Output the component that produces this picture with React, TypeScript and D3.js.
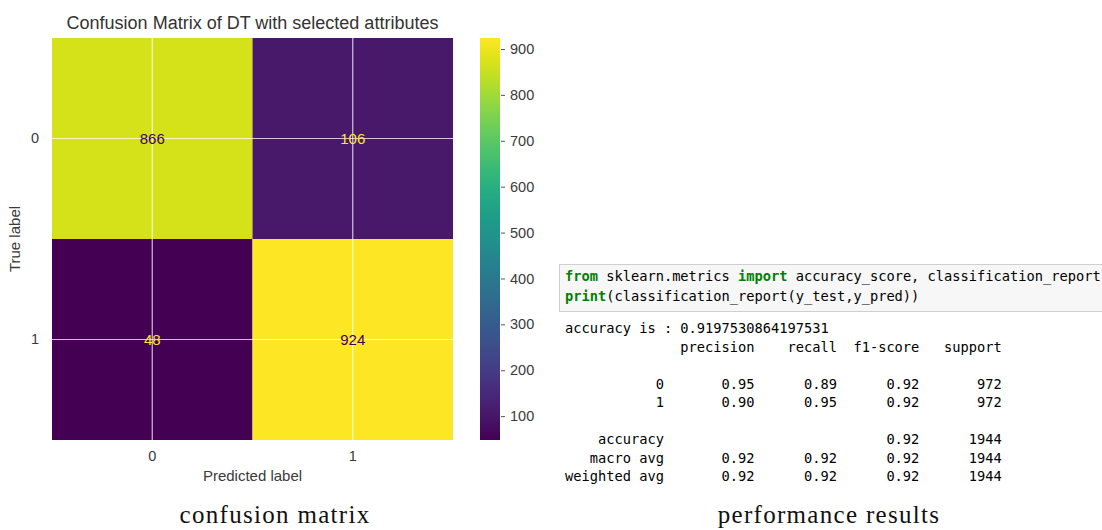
import { useEffect, useRef } from "react";
import * as d3 from "d3";

// confusion matrix values (rows = true label, cols = predicted label)
const classes = ["0", "1"];
const matrix = [
  [866, 106],
  [48, 924],
];
const colorbarTicks = [100, 200, 300, 400, 500, 600, 700, 800, 900];

// classification report
const accuracyValue = "0.9197530864197531";
const reportHeaders = ["precision", "recall", "f1-score", "support"];
const classRows = ["0", "1"];
const precision = [0.95, 0.9];
const recall = [0.89, 0.95];
const f1 = [0.92, 0.92];
const support = [972, 972];
const avgRows = ["macro avg", "weighted avg"];
const avgPrecision = [0.92, 0.92];
const avgRecall = [0.92, 0.92];
const avgF1 = [0.92, 0.92];
const avgSupport = [1944, 1944];
const accuracyF1 = 0.92;
const accuracySupport = 1944;

const W = 1102;
const H = 530;

function App() {
  const ref = useRef<SVGSVGElement | null>(null);

  useEffect(() => {
    const svg = d3.select(ref.current);
    svg.selectAll("*").remove();

    const sans = "'Liberation Sans', Arial, sans-serif";
    const mono = "'DejaVu Sans Mono', monospace";
    const textCol = "#3a3a3a";
    const fs = 14.5;

    // ---------- heatmap ----------
    const x = d3.scaleBand().domain(classes).range([52, 453]);
    const y = d3.scaleBand().domain(classes).range([38, 440]);
    const flat = matrix.flat();
    const [vmin, vmax] = d3.extent(flat) as [number, number];
    const color = d3.scaleSequential(d3.interpolateViridis).domain([vmin, vmax]);

    const cells = matrix.flatMap((row, i) =>
      row.map((v, j) => ({ r: classes[i], c: classes[j], v }))
    );

    svg
      .append("text")
      .attr("x", (x.range()[0] + x.range()[1]) / 2)
      .attr("y", 29)
      .attr("text-anchor", "middle")
      .attr("font-family", sans)
      .attr("font-size", 18)
      .attr("fill", "#333")
      .text("Confusion Matrix of DT with selected attributes");

    svg
      .append("g")
      .selectAll("rect")
      .data(cells)
      .join("rect")
      .attr("x", (d) => x(d.c)!)
      .attr("y", (d) => y(d.r)!)
      .attr("width", x.bandwidth())
      .attr("height", y.bandwidth())
      .attr("fill", (d) => color(d.v));

    // grid lines through cell centres (seaborn style)
    const grid = svg.append("g").attr("stroke", "#fff").attr("stroke-opacity", 0.75).attr("stroke-width", 1.2);
    classes.forEach((c) => {
      const cx = x(c)! + x.bandwidth() / 2;
      const cy = y(c)! + y.bandwidth() / 2;
      grid.append("line").attr("x1", cx).attr("x2", cx).attr("y1", y.range()[0]).attr("y2", y.range()[1]);
      grid.append("line").attr("y1", cy).attr("y2", cy).attr("x1", x.range()[0]).attr("x2", x.range()[1]);
    });

    const mid = (vmin + vmax) / 2;
    svg
      .append("g")
      .selectAll("text")
      .data(cells)
      .join("text")
      .attr("x", (d) => x(d.c)! + x.bandwidth() / 2)
      .attr("y", (d) => y(d.r)! + y.bandwidth() / 2)
      .attr("text-anchor", "middle")
      .attr("dominant-baseline", "central")
      .attr("font-family", sans)
      .attr("font-size", 15)
      .attr("fill", (d) => (d.v < mid ? color(vmax) : color(vmin)))
      .text((d) => d.v);

    const xAxis = svg
      .append("g")
      .attr("transform", `translate(0,${y.range()[1]})`)
      .call(d3.axisBottom(x).tickSize(0).tickPadding(11));
    const yAxis = svg
      .append("g")
      .attr("transform", `translate(${x.range()[0]},0)`)
      .call(d3.axisLeft(y).tickSize(0).tickPadding(13));
    [xAxis, yAxis].forEach((g) => {
      g.select(".domain").remove();
      g.selectAll("text").attr("font-family", sans).attr("font-size", fs).attr("fill", textCol);
    });

    svg
      .append("text")
      .attr("x", (x.range()[0] + x.range()[1]) / 2)
      .attr("y", 481)
      .attr("text-anchor", "middle")
      .attr("font-family", sans)
      .attr("font-size", 15)
      .attr("fill", textCol)
      .text("Predicted label");

    svg
      .append("text")
      .attr("transform", `translate(20,${(y.range()[0] + y.range()[1]) / 2}) rotate(-90)`)
      .attr("text-anchor", "middle")
      .attr("font-family", sans)
      .attr("font-size", 15)
      .attr("fill", textCol)
      .text("True label");

    // ---------- colorbar ----------
    const cb = d3.scaleLinear().domain([vmin, vmax]).range([440, 38]);
    const defs = svg.append("defs");
    const grad = defs
      .append("linearGradient")
      .attr("id", "viridis-grad")
      .attr("x1", 0)
      .attr("y1", 1)
      .attr("x2", 0)
      .attr("y2", 0);
    d3.range(0, 1.0001, 0.05).forEach((t) => {
      grad.append("stop").attr("offset", `${t * 100}%`).attr("stop-color", d3.interpolateViridis(t));
    });
    svg
      .append("rect")
      .attr("x", 480)
      .attr("y", cb(vmax))
      .attr("width", 20)
      .attr("height", cb(vmin) - cb(vmax))
      .attr("fill", "url(#viridis-grad)");
    const cbAxis = svg
      .append("g")
      .attr("transform", "translate(501,0)")
      .call(d3.axisRight(cb).tickValues(colorbarTicks).tickSize(4).tickPadding(5));
    cbAxis.select(".domain").remove();
    cbAxis.selectAll("line").attr("stroke", "#555");
    cbAxis.selectAll("text").attr("font-family", sans).attr("font-size", fs).attr("fill", textCol);

    // ---------- code cell ----------
    svg
      .append("rect")
      .attr("x", 559.5)
      .attr("y", 264.5)
      .attr("width", 600)
      .attr("height", 47)
      .attr("fill", "#f7f7f7")
      .attr("stroke", "#cfcfcf");

    const codeLines = [
      [
        { t: "from", k: true },
        { t: " sklearn.metrics ", k: false },
        { t: "import", k: true },
        { t: " accuracy_score, classification_report", k: false },
      ],
      [
        { t: "print", k: true },
        { t: "(classification_report(y_test,y_pred))", k: false },
      ],
    ];
    codeLines.forEach((parts, i) => {
      const t = svg
        .append("text")
        .attr("x", 565)
        .attr("y", 281 + i * 19.5)
        .attr("font-family", mono)
        .attr("font-size", 13.7)
        .style("white-space", "pre");
      parts.forEach((p) =>
        t
          .append("tspan")
          .attr("fill", p.k ? "#008000" : "#000")
          .attr("font-weight", p.k ? "bold" : "normal")
          .text(p.t)
      );
    });

    // ---------- report output ----------
    const lw = 12;
    const num = (v: number) => " " + v.toFixed(2).padStart(9);
    const int = (v: number) => " " + String(v).padStart(9);
    const blank = " ".repeat(10);
    const out: string[] = [];
    out.push(`accuracy is : ${accuracyValue}`);
    out.push(" ".repeat(lw) + " " + reportHeaders.map((h) => " " + h.padStart(9)).join(""));
    out.push("");
    classRows.forEach((c, i) =>
      out.push(c.padStart(lw) + " " + num(precision[i]) + num(recall[i]) + num(f1[i]) + int(support[i]))
    );
    out.push("");
    out.push("accuracy".padStart(lw) + " " + blank + blank + num(accuracyF1) + int(accuracySupport));
    avgRows.forEach((c, i) =>
      out.push(c.padStart(lw) + " " + num(avgPrecision[i]) + num(avgRecall[i]) + num(avgF1[i]) + int(avgSupport[i]))
    );

    svg
      .append("g")
      .selectAll("text")
      .data(out)
      .join("text")
      .attr("x", 565)
      .attr("y", (_, i) => 333 + i * 18.5)
      .attr("font-family", mono)
      .attr("font-size", 13.7)
      .attr("fill", "#000")
      .style("white-space", "pre")
      .text((d) => d);

    // ---------- captions ----------
    const serif = "'Liberation Serif', 'Times New Roman', serif";
    [
      { t: "confusion matrix", cx: 275 },
      { t: "performance results", cx: 829 },
    ].forEach((c) =>
      svg
        .append("text")
        .attr("x", c.cx)
        .attr("y", 523)
        .attr("text-anchor", "middle")
        .attr("font-family", serif)
        .attr("font-size", 25)
        .attr("letter-spacing", 1.3)
        .attr("fill", "#111")
        .text(c.t)
    );
  }, []);

  return (
    <svg
      ref={ref}
      width={W}
      height={H}
      style={{ position: "absolute", left: 0, top: 0, background: "#fff" }}
    />
  );
}

export default App;
